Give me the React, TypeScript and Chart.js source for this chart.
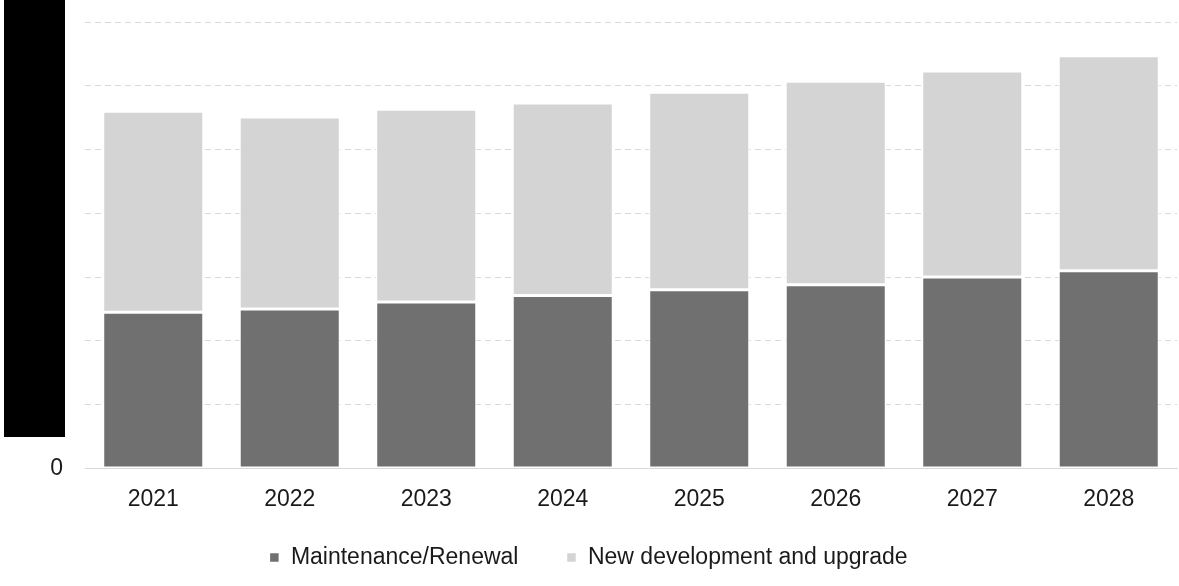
import React, { useEffect, useRef } from "react";
import { Chart, registerables } from "chart.js";

Chart.register(...registerables);

const categories = ["2021", "2022", "2023", "2024", "2025", "2026", "2027", "2028"];
const maintenanceRenewal = [2.45, 2.5, 2.61, 2.71, 2.8, 2.88, 3.0, 3.1];
const newDevelopment = [3.15, 3.01, 3.02, 3.02, 3.1, 3.19, 3.23, 3.37];
const yMax = 7;

const FONT = "Liberation Sans, Arial, sans-serif";
const LEGEND_SHIFT = 32;

const legendTweak = {
  id: "legendTweak",
  beforeLayout(chart: any) {
    const lg: any = chart.legend;
    if (lg && !lg.__patched) {
      lg.__patched = true;
      const fit = lg.fit.bind(lg);
      lg.fit = function () {
        fit();
        this.height -= LEGEND_SHIFT;
      };
      const draw = lg.draw.bind(lg);
      lg.draw = function () {
        this.top -= LEGEND_SHIFT;
        draw();
        this.top += LEGEND_SHIFT;
      };
    }
  },
};

export default function App() {
  const ref = useRef<HTMLCanvasElement>(null);
  useEffect(() => {
    document.body.style.margin = "0";
    const chart = new Chart(ref.current!, {
      type: "bar",
      data: {
        labels: categories,
        datasets: [
          {
            label: "Maintenance/Renewal",
            data: maintenanceRenewal,
            backgroundColor: "#707070",
            borderColor: "#ffffff",
            borderWidth: 1.5,
            borderSkipped: false,
            barPercentage: 0.74,
            categoryPercentage: 1,
          },
          {
            label: "New development and upgrade",
            data: newDevelopment,
            backgroundColor: "#d4d4d4",
            borderColor: "#ffffff",
            borderWidth: 1.5,
            borderSkipped: false,
            barPercentage: 0.74,
            categoryPercentage: 1,
          },
        ],
      },
      options: {
        animation: false,
        responsive: false,
        layout: { padding: { top: 22, right: 2, left: 0, bottom: 7 } },
        plugins: {
          tooltip: { enabled: false },
          legend: {
            position: "bottom",
            labels: {
              boxWidth: 10,
              boxHeight: 10,
              padding: 48,
              color: "#1a1a1a",
              font: { family: FONT, size: 23 },
            },
          },
        },
        scales: {
          x: {
            stacked: true,
            grid: { display: false, drawTicks: false },
            border: { display: true, color: "#d9d9d9", width: 1 },
            ticks: {
              padding: 17,
              color: "#1a1a1a",
              font: { family: FONT, size: 23 },
            },
          },
          y: {
            stacked: true,
            min: 0,
            max: yMax,
            afterFit: (s: any) => {
              s.width = 85;
              s.paddingTop = 0;
              s.paddingBottom = 0;
            },
            grid: { color: "#d9d9d9", drawTicks: false, lineWidth: 1 },
            border: { display: false, dash: [6, 4] },
            ticks: {
              stepSize: 1,
              padding: 22,
              color: "#1a1a1a",
              font: { family: FONT, size: 23 },
              callback: (v: any) => (Number(v) === 0 ? "0" : ""),
            },
          },
        },
      },
      plugins: [legendTweak],
    });
    return () => chart.destroy();
  }, []);
  return (
    <div style={{ position: "relative", width: 1179, height: 586 }}>
      <canvas ref={ref} width={1179} height={586} />
      <div
        style={{
          position: "absolute",
          left: 4,
          top: 0,
          width: 61,
          height: 437,
          background: "#000",
        }}
      />
    </div>
  );
}
